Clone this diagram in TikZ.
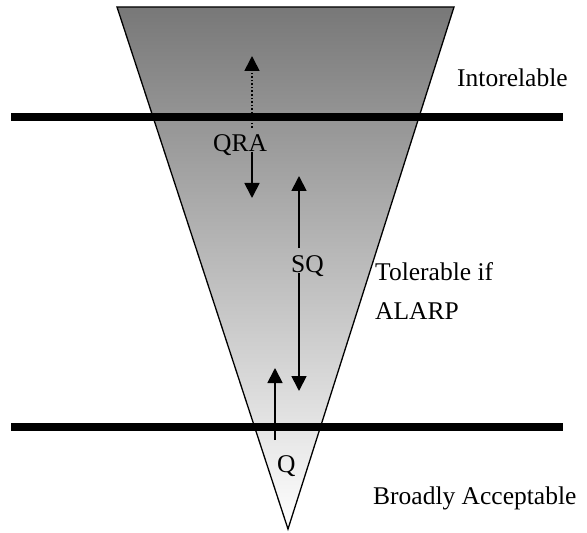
\documentclass[tikz,border=0pt]{standalone}
\usepackage{fontspec}
\setmainfont{Liberation Serif}
\usetikzlibrary{arrows.meta}
\tikzset{
  lbl/.style={inner sep=0pt, anchor=base west, font=\fontsize{25.5bp}{39bp}\selectfont},
  bar/.style={line width=8bp},
  arr/.style={line width=1.8bp, -{Triangle[width=15bp,length=15bp]}},
  dotarr/.style={line width=1.6bp, dotted, -{Triangle[width=15bp,length=15bp]}},
}
\begin{document}
\begin{tikzpicture}[x=1bp,y=-1bp]
\useasboundingbox (0,0) rectangle (587,533);
% funnel
\shade[top color=black!53, bottom color=white, draw=black, line width=1.3bp]
  (117,7) -- (454,7) -- (288,529) -- cycle;
% bars
\coordinate (b1l) at (11,117); \coordinate (b1r) at (563,117);
\coordinate (b2l) at (11,427); \coordinate (b2r) at (563,427);
\draw[bar] (b1l) -- (b1r);
\draw[bar] (b2l) -- (b2r);
% labels
\node[lbl] (intol) at (457,87) {Intorelable};
\node[lbl, align=left, anchor=north west] (tol) at (375,262) {Tolerable if\\ALARP};
\node[lbl] (broad) at (373,504) {Broadly Acceptable};
\node[lbl] (qra) at (213,152) {QRA};
\node[lbl] (sq) at (291,272) {SQ};
\node[lbl] (q) at (277,472) {Q};
% arrows
\coordinate (d0) at (252,128); \coordinate (d1) at (252,56);
\coordinate (a0) at (252,152); \coordinate (a1) at (252,198);
\coordinate (s0) at (299,248); \coordinate (s1) at (299,176);
\coordinate (t0) at (299,273); \coordinate (t1) at (299,391);
\coordinate (u0) at (275,440); \coordinate (u1) at (275,368);
\draw[dotarr] (d0) -- (d1);
\draw[arr] (a0) -- (a1);
\draw[arr] (s0) -- (s1);
\draw[arr] (t0) -- (t1);
\draw[arr] (u0) -- (u1);
\end{tikzpicture}
\end{document}
